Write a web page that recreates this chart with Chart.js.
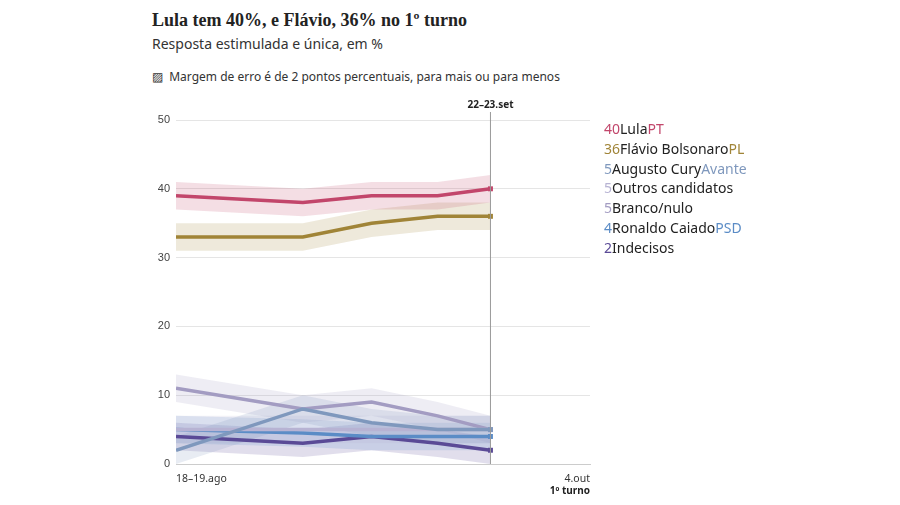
<!DOCTYPE html>
<html><head><meta charset="utf-8">
<script src="https://cdn.jsdelivr.net/npm/chart.js@4"></script>
<style>
body{margin:0;background:#fff;font-family:"Noto Sans",sans-serif;color:#222}
#title{position:absolute;left:152px;top:10px;font:bold 18px "Liberation Serif",serif}
#sub{position:absolute;left:152px;top:34px;font-size:14px;color:#333}
#note{position:absolute;left:152px;top:68px;font-size:12px;color:#333}
#wrap{position:absolute;left:140px;top:85px;width:470px;height:420px}
#leg{position:absolute;left:604px;top:119px;font-size:14px;line-height:19.8px}
</style></head><body>
<div id="title">Lula tem 40%, e Flávio, 36% no 1º turno</div>
<div id="sub">Resposta estimulada e única, em %</div>
<div id="note">▨&nbsp; Margem de erro é de 2 pontos percentuais, para mais ou para menos</div>
<div id="wrap"><canvas id="c"></canvas></div>
<div id="leg"></div>
<script>
// dias desde 18 ago
const dias = [0, 14.4, 22.2, 29.7, 35.7];
const nomes = ["Lula", "Flávio Bolsonaro", "Augusto Cury", "Outros candidatos", "Branco/nulo", "Ronaldo Caiado", "Indecisos"];
const partidos = ["PT", "PL", "Avante", "", "", "PSD", ""];
const lula = [39, 38, 39, 39, 40];
const flavio = [33, 33, 35, 36, 36];
const cury = [2, 8, 6, 5, 5];
const outros = [5, 5, 5, 5, 5];
const branco = [11, 8, 9, 7, 5];
const caiado = [5, 4.5, 4, 4, 4];
const indecisos = [4, 3, 4, 3, 2];
const cores = ["#c2466b", "#a08437", "#7f98bd", "#b7b3d3", "#a39cc2", "#5b8cc6", "#5a4a96"];
const margem = 2;
const series = [lula, flavio, cury, outros, branco, caiado, indecisos];

function rgba(h, a) {
  let n = parseInt(h.slice(1), 16);
  return `rgba(${n >> 16},${(n >> 8) & 255},${n & 255},${a})`;
}

let datasets = [];
series.forEach((s, i) => {
  datasets.push({ data: s.map((v, j) => ({ x: dias[j], y: v + margem })), borderWidth: 0, pointRadius: 0, fill: false, order: 10 });
  datasets.push({ data: s.map((v, j) => ({ x: dias[j], y: Math.max(0, v - margem) })), borderWidth: 0, pointRadius: 0, fill: "-1", backgroundColor: rgba(cores[i], 0.18), order: 10 });
});
series.forEach((s, i) => {
  datasets.push({
    data: s.map((v, j) => ({ x: dias[j], y: v })), borderColor: cores[i], borderWidth: 3.5,
    pointRadius: s.map((v, j) => j == s.length - 1 ? 3.5 : 0), pointStyle: "rect",
    pointBackgroundColor: cores[i], pointBorderWidth: 0, fill: false, order: i
  });
});

const linhaFinal = {
  id: "linhaFinal",
  afterDatasetsDraw(c) {
    let x = c.scales.x.getPixelForValue(dias[dias.length - 1]);
    let ctx = c.ctx;
    ctx.save();
    ctx.strokeStyle = "#999"; ctx.lineWidth = 1;
    ctx.beginPath(); ctx.moveTo(x, c.chartArea.top - 8); ctx.lineTo(x, c.chartArea.bottom); ctx.stroke();
    ctx.fillStyle = "#222"; ctx.font = "bold 10px 'Noto Sans'"; ctx.textAlign = "center";
    ctx.fillText("22–23.set", x, c.chartArea.top - 12);
    ctx.textAlign = "left"; ctx.font = "10.5px 'Noto Sans'"; ctx.fillStyle = "#333";
    ctx.fillText("18–19.ago", c.chartArea.left, c.chartArea.bottom + 18);
    ctx.textAlign = "right";
    ctx.fillText("4.out", c.chartArea.right, c.chartArea.bottom + 18);
    ctx.font = "bold 10px 'Noto Sans'"; ctx.fillStyle = "#222";
    ctx.fillText("1º turno", c.chartArea.right, c.chartArea.bottom + 30);
    ctx.restore();
  }
};

new Chart(document.getElementById("c"), {
  type: "line",
  data: { datasets },
  options: {
    responsive: true, maintainAspectRatio: false, animation: false,
    layout: { padding: { top: 35, right: 20 } },
    plugins: { legend: { display: false }, tooltip: { enabled: false } },
    scales: {
      x: { type: "linear", min: 0, max: 47, afterBuildTicks: a => { a.ticks = [0, 14.4, 22.2, 29.7, 47].map(v => ({ value: v })); },
        grid: { display: false, drawTicks: true }, border: { color: "#ccc" },
        ticks: { callback: () => "", padding: 0 }, afterFit: a => { a.height = 41; } },
      y: { min: 0, max: 50, ticks: { stepSize: 10, color: "#444", font: { size: 11 }, padding: 6 },
        grid: { color: "#e5e5e5", drawTicks: false }, border: { display: false },
        afterFit: a => { a.width = 36; } }
    }
  },
  plugins: [linhaFinal]
});

document.getElementById("leg").innerHTML = nomes.map((n, i) =>
  `<div><span style="color:${cores[i]}">${series[i][series[i].length - 1]}</span>${n}<span style="color:${cores[i]}">${partidos[i]}</span></div>`).join("");
</script>
</body></html>
